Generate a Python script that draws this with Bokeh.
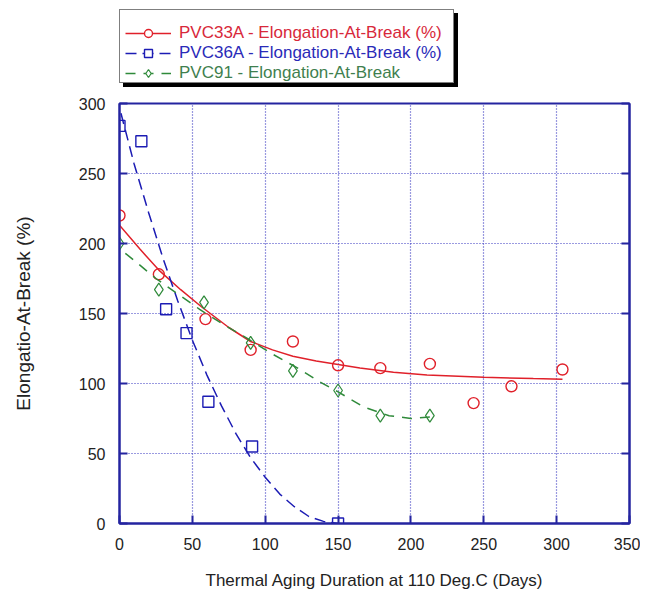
from bokeh.plotting import figure
from bokeh.layouts import column
from bokeh.models import Legend, LegendItem, LinearAxis, FixedTicker, Range1d
from bokeh.embed import file_html
from bokeh.resources import INLINE

# ---- data ----
days_33a = [0, 27, 59, 90, 119, 150, 179, 213, 243, 269, 304]
elong_33a = [220, 178, 146, 124, 130, 113, 111, 114, 86, 98, 110]
fit_days_33a = [0, 14, 27, 42, 56, 75, 90, 105, 119, 135, 150, 165, 188, 211, 250, 284, 304]
fit_elong_33a = [213, 196, 181, 167, 155, 140, 130, 124, 119.5, 116, 113.5, 111, 108, 106, 104.5, 103.5, 103]

days_36a = [0, 15, 32, 46, 61, 91, 150]
elong_36a = [284, 273, 153, 136, 87, 55, 0]
fit_days_36a = [1, 10, 20, 30, 40, 50, 60, 70, 80, 90, 100, 110, 120, 130, 140, 150]
fit_elong_36a = [293, 257, 222, 189, 159, 131, 106, 84, 64, 47, 33, 21, 12, 5, 1.5, 0]

days_91 = [0, 27, 58, 90, 119, 150, 179, 213]
elong_91 = [200, 167, 158, 129, 109, 95, 77, 77]
fit_days_91 = [4, 10, 25, 40, 55, 70, 88, 105, 124, 136, 150, 168, 185, 200, 213]
fit_elong_91 = [193, 188, 175, 164, 153, 143, 132, 121, 110, 102, 94, 83, 77, 75, 76]

labels = ["PVC33A - Elongation-At-Break (%)",
          "PVC36A - Elongation-At-Break (%)",
          "PVC91 - Elongation-At-Break"]
x_ticks = [0, 50, 100, 150, 200, 250, 300, 350]
y_ticks = [0, 50, 100, 150, 200, 250, 300]

RED = "#e0202a"
BLUE = "#1c1cb4"
GREEN = "#2f8a3a"
TEXT_COLORS = ["#d8283a", "#2a2ab8", "#3f7f4f"]
FRAME = "#2424a0"
GRID = "#3434c0"
FONT = "Liberation Sans"

styles = [
    dict(color=RED, dash="solid", marker="circle", size=11, mw=1.4),
    dict(color=BLUE, dash="11 6", marker="square", size=11, mw=1.4),
    dict(color=GREEN, dash="10 8", marker="diamond", size=13, mw=1.2),
]

# ---- main plot ----
p = figure(width=640, height=500, x_range=Range1d(0, 350), y_range=Range1d(0, 300),
           output_backend="svg", toolbar_location=None,
           min_border_left=119, min_border_right=11, min_border_top=8, min_border_bottom=72)
p.background_fill_color = "white"
p.border_fill_color = "white"
p.outline_line_color = FRAME
p.outline_line_width = 2

for ax in (p.xaxis[0], p.yaxis[0]):
    ax.axis_line_color = FRAME
    ax.axis_line_width = 2
    ax.major_tick_line_color = FRAME
    ax.major_tick_line_width = 2
    ax.major_tick_in = 8
    ax.major_tick_out = 0
    ax.minor_tick_line_color = None
    ax.major_label_text_font = FONT
    ax.major_label_text_font_size = "16px"
    ax.major_label_text_color = "#222222"
    ax.axis_label_text_font = FONT
    ax.axis_label_text_font_style = "normal"
    ax.axis_label_text_color = "#222222"

p.xaxis[0].ticker = FixedTicker(ticks=x_ticks)
p.yaxis[0].ticker = FixedTicker(ticks=y_ticks)
p.xaxis[0].axis_label = "Thermal Aging Duration at 110 Deg.C (Days)"
p.yaxis[0].axis_label = "Elongatio-At-Break (%)"
p.xaxis[0].axis_label_text_font_size = "17px"
p.yaxis[0].axis_label_text_font_size = "19px"
p.xaxis[0].major_label_standoff = 14
p.xaxis[0].axis_label_standoff = 18
p.yaxis[0].major_label_standoff = 14
p.yaxis[0].axis_label_standoff = 42

right = LinearAxis(ticker=FixedTicker(ticks=y_ticks))
right.axis_line_color = FRAME
right.axis_line_width = 2
right.major_tick_line_color = FRAME
right.major_tick_line_width = 2
right.major_tick_in = 8
right.major_tick_out = 0
right.minor_tick_line_color = None
right.major_label_overrides = {t: "" for t in y_ticks}
right.major_label_standoff = 0
p.add_layout(right, "right")

p.xgrid[0].ticker = FixedTicker(ticks=x_ticks)
p.ygrid[0].ticker = FixedTicker(ticks=y_ticks)
p.grid.grid_line_color = GRID
p.grid.grid_line_dash = "1 2"
p.grid.grid_line_width = 1.2

series = [
    (fit_days_33a, fit_elong_33a, days_33a, elong_33a),
    (fit_days_36a, fit_elong_36a, days_36a, elong_36a),
    (fit_days_91, fit_elong_91, days_91, elong_91),
]
for (fx, fy, dx, dy), st in zip(series, styles):
    p.line(fx, fy, line_color=st["color"], line_width=1.5, line_dash=st["dash"])
    p.scatter(dx, dy, marker=st["marker"], size=st["size"], line_color=st["color"],
              fill_color=None, line_width=st["mw"])

# ---- legend figure above the plot (its ranges keep the proxy points out of view) ----
lf = figure(width=640, height=95, output_backend="svg", toolbar_location=None,
            x_axis_location=None, y_axis_location=None,
            min_border_left=0, min_border_right=0, min_border_top=0, min_border_bottom=0,
            x_range=Range1d(1000, 1001), y_range=Range1d(1000, 1001))
lf.outline_line_color = None
lf.grid.visible = False
lf.background_fill_color = "white"
lf.border_fill_color = "white"

common = dict(padding=6, spacing=0, label_height=20, glyph_height=20,
              label_standoff=8, margin=0,
              label_text_font=FONT, label_text_font_size="17px")

dummy = lf.line(days_33a[:2], elong_33a[:2], line_alpha=0)
shadow = Legend(items=[LegendItem(label=" ", renderers=[dummy]) for _ in range(3)],
                location=(4, 8), background_fill_color="black", background_fill_alpha=1,
                border_line_color="black", glyph_width=50, label_width=263, **common)
box = Legend(items=[LegendItem(label=" ", renderers=[dummy]) for _ in range(3)],
             location=(0, 12), background_fill_color="white", background_fill_alpha=1,
             border_line_color="black", border_line_width=1,
             glyph_width=50, label_width=263, **common)
lf.add_layout(shadow, "center")
lf.add_layout(box, "center")

for k, ((fx, fy, dx, dy), st, lab, tc) in enumerate(zip(series, styles, labels, TEXT_COLORS)):
    lr = lf.line(fx[:2], fy[:2], line_color=st["color"], line_width=1.5, line_dash=st["dash"])
    sr = lf.scatter(dx[:1], dy[:1], marker=st["marker"], size=st["size"], line_color=st["color"],
                    fill_color="white", line_width=st["mw"])
    lg = Legend(items=[LegendItem(label=lab, renderers=[lr, sr])],
                location=(6, 12 + (2 - k) * 20), background_fill_alpha=0,
                border_line_color=None, label_text_color=tc,
                glyph_width=46, label_width=240, **common)
    lf.add_layout(lg, "center")

layout = column(lf, p, spacing=0)
open("out.html", "w").write(file_html(layout, INLINE))
